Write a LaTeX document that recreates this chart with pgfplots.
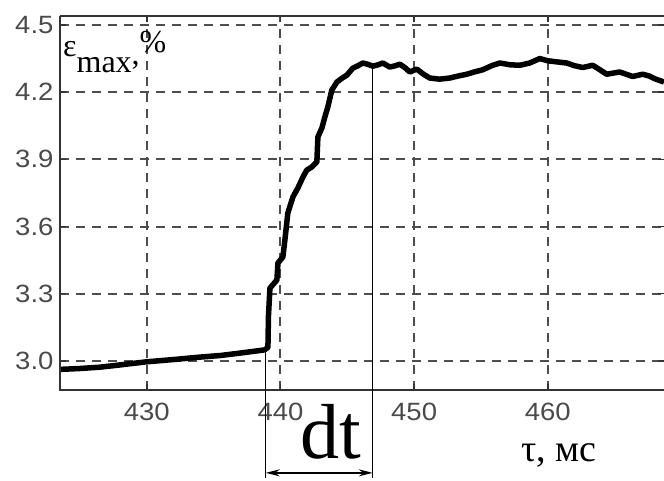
\documentclass[border=0pt]{standalone}
\usepackage{fontspec}
\setmainfont{Liberation Serif}
\newfontfamily\ticksans[FakeStretch=1.1]{Liberation Sans}
\usepackage{pgfplots}
\pgfplotsset{compat=1.18}
\usetikzlibrary{arrows.meta}
\definecolor{gridc}{HTML}{4D4D4D}
\definecolor{axc}{HTML}{333333}
\definecolor{tickc}{HTML}{4A4A4A}
\begin{document}
\begin{tikzpicture}
\begin{axis}[
  scale only axis, width=604pt, height=374pt,
  xmin=423.5, xmax=468.7, ymin=2.87, ymax=4.54,
  xtick={430,440,450,460}, ytick={3.0,3.3,3.6,3.9,4.2,4.5},
  yticklabel style={/pgf/number format/fixed, /pgf/number format/fixed zerofill, /pgf/number format/precision=1, xshift=-3pt},
  /pgf/number format/assume math mode=true,
  ticklabel style={font=\ticksans\fontsize{25}{28}\selectfont, text=tickc},
  xticklabel style={yshift=-10pt},
  grid=major,
  major grid style={draw=gridc, line width=2pt, dash pattern=on 9pt off 7pt},
  tick style={draw=axc, line width=1.5pt},
  tick align=inside, major tick length=6pt,
  axis line style={draw=none},
  clip=false,
]
\addplot[black, line width=5.5pt, line join=round] table {
423.5 2.962
425.0 2.966
426.5 2.972
428.0 2.982
430 2.996
432.0 3.006
434 3.017
435.5 3.024
437 3.035
438.8 3.049
439.06 3.06
439.1 3.2
439.21 3.325
439.73 3.361
439.81 3.437
440.18 3.464
440.33 3.540
440.55 3.660
440.93 3.732
441.30 3.772
441.68 3.821
441.97 3.852
442.35 3.866
442.72 3.888
442.80 4.0
443.10 4.04
443.32 4.089
443.54 4.133
443.84 4.209
444.22 4.245
444.6 4.262
444.97 4.276
445.41 4.307
445.8 4.318
446.16 4.33
446.5 4.325
446.91 4.316
447.3 4.322
447.66 4.33
448.18 4.312
448.6 4.318
448.93 4.325
449.3 4.31
449.68 4.29
450.20 4.303
450.7 4.28
451.17 4.263
451.9 4.258
452.67 4.263
453.3 4.272
453.94 4.28
454.5 4.29
455.14 4.30
455.8 4.318
456.41 4.33
457.2 4.322
457.91 4.32
458.65 4.33
459.40 4.35
460.0 4.34
460.7 4.335
461.42 4.33
462.0 4.318
462.62 4.31
463.37 4.32
463.9 4.30
464.41 4.28
465.38 4.29
466.36 4.27
467.1 4.28
467.6 4.272
468.0 4.26
468.7 4.245
};
\draw[axc, line width=2.2pt] (rel axis cs:0,1) -- (rel axis cs:1,1);
\draw[axc, line width=2.2pt] (rel axis cs:0,1) -- (rel axis cs:0,0) -- (rel axis cs:1,0);
\draw[black, line width=0.9pt] (axis cs:438.9,3.05) -- (axis cs:438.9,2.477);
\draw[black, line width=0.9pt] (axis cs:446.9,4.32) -- (axis cs:446.9,2.477);
\draw[black, line width=1.5pt, {Stealth[length=14pt,width=7pt]}-{Stealth[length=14pt,width=7pt]}] (axis cs:438.9,2.50) -- (axis cs:446.9,2.50);
\node[anchor=base, inner sep=0] at (axis cs:443.8,2.566) {\fontsize{78}{78}\selectfont dt};
\node[anchor=base west, inner sep=0] at (axis cs:458.0,2.549) {\fontsize{38}{38}\selectfont τ, мс};
\node[anchor=base west, inner sep=0] at ([xshift=3pt,yshift=-41pt]rel axis cs:0,1) {\fontsize{32}{32}\selectfont ε\raisebox{-16pt}{max}\raisebox{-8pt}{,}\raisebox{4pt}{\%}};
\coordinate (sw) at (rel axis cs:0,0);
\coordinate (ne) at (rel axis cs:1,1);
\end{axis}
\pgfresetboundingbox
\useasboundingbox ([xshift=-60pt,yshift=-91pt]sw) rectangle ([yshift=16pt]ne);
\end{tikzpicture}
\end{document}
